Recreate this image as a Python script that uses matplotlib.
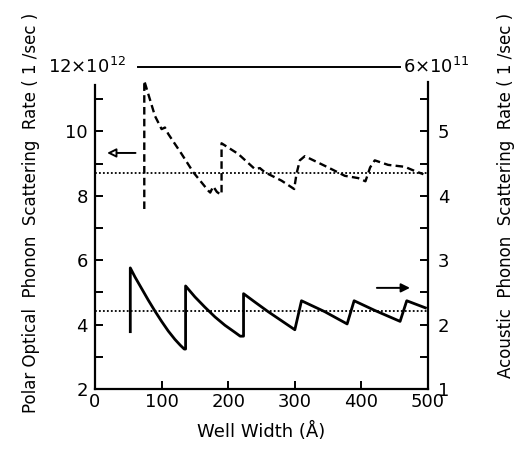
import numpy as np
import matplotlib
matplotlib.use('Agg')
import matplotlib.pyplot as plt

plt.rcParams['font.family'] = 'DejaVu Sans'

# polar optical phonon rate (left axis, 1e12 /sec) - dashed
polar_x = [74, 74, 80, 90, 100, 105, 110, 130, 147.6, 170, 173, 177.5, 183, 187.7,
           190, 190, 215, 240, 247.5, 255, 280, 299, 302.5, 307.5, 315, 350, 375, 395, 406,
           413, 420, 440, 465, 480, 493]
polar_y = [7.59, 11.57, 11.16, 10.48, 10.07, 10.12, 9.92, 9.3, 8.73, 8.16, 8.1, 8.29, 8.12, 8.05,
           8.05, 9.63, 9.3, 8.83, 8.86, 8.73, 8.47, 8.21, 8.68, 9.1, 9.23, 8.88, 8.62, 8.55, 8.45,
           8.88, 9.1, 8.96, 8.9, 8.77, 8.67]

# acoustic phonon rate (right axis, 1e11 /sec) - solid
acou_x = [53, 53, 60, 70, 80, 90, 100, 110, 120, 128, 134,
          136, 136, 150, 165, 180, 195, 210, 218,
          223, 223, 240, 260, 280, 300,
          310, 345, 378.5, 389, 420, 458, 468, 496]
acou_y = [1.89, 2.88, 2.74, 2.56, 2.38, 2.21, 2.05, 1.9, 1.77, 1.68, 1.62,
          1.62, 2.6, 2.43, 2.27, 2.12, 1.99, 1.88, 1.82,
          1.82, 2.48, 2.35, 2.2, 2.06, 1.92,
          2.37, 2.2, 2.01, 2.37, 2.22, 2.05, 2.37, 2.26]

polar_ref = 8.7
acou_ref = 2.21

fig = plt.figure(figsize=(5.14, 4.51), dpi=100)
ax = fig.add_axes([0.1848, 0.1375, 0.648, 0.714])
ax2 = ax.twinx()

ax.plot(polar_x, polar_y, color='black', lw=1.7, ls=(0, (3.2, 1.8)))
ax.axhline(polar_ref, color='black', lw=1.3, ls=(0, (1, 1.2)))
ax2.plot(acou_x, acou_y, color='black', lw=2.0)
ax2.axhline(acou_ref, color='black', lw=1.3, ls=(0, (1, 1.2)))

ax.set_xlim(0, 500)
ax.set_ylim(2, 12)
ax2.set_ylim(1, 6)

ax.set_xticks([0, 100, 200, 300, 400, 500])
ax.set_yticks([2, 4, 6, 8, 10])
ax.set_yticks([3, 5, 7, 9, 11], minor=True)
ax2.set_yticks([1, 2, 3, 4, 5])
ax2.set_yticks([1.5, 2.5, 3.5, 4.5, 5.5], minor=True)

for a in (ax, ax2):
    a.tick_params(which='both', direction='in', length=6, width=1.4, labelsize=13)
ax.tick_params(axis='x', pad=3)
ax.tick_params(axis='y', which='both', right=False, pad=5)
ax2.tick_params(axis='y', which='both', left=False, pad=7)

ax.spines['top'].set_visible(False)
ax.spines['right'].set_visible(False)
ax.spines['left'].set_bounds(2, 11.45)
ax.spines['left'].set_linewidth(1.6)
ax.spines['bottom'].set_linewidth(1.6)
for s in ('top', 'left', 'bottom'):
    ax2.spines[s].set_visible(False)
ax2.spines['right'].set_bounds(1, 5.77)
ax2.spines['right'].set_linewidth(1.6)

# top line with scale labels
ax.plot([65, 458], [12, 12], color='black', lw=1.4, clip_on=False)
ax.text(47, 12, r'12$\times$10$^{12}$', ha='right', va='center', fontsize=13)
ax.text(463, 12, r'6$\times$10$^{11}$', ha='left', va='center', fontsize=13, clip_on=False)

# arrows pointing to the axes
ax.annotate('', xy=(14, 9.33), xytext=(65, 9.33),
            arrowprops=dict(arrowstyle='-|>', edgecolor='black', facecolor='white',
                            lw=1.4, mutation_scale=13))
ax2.annotate('', xy=(477, 2.57), xytext=(419, 2.57),
             arrowprops=dict(arrowstyle='-|>', color='black', lw=1.4, mutation_scale=13))

ax.set_xlabel('Well Width (Å)', fontsize=13, labelpad=8)
fig.text(0.06, 0.971, 'Polar Optical  Phonon  Scattering  Rate ( 1 /sec )',
         rotation=90, ha='center', va='top', fontsize=12)
fig.text(0.984, 0.971, 'Acoustic  Phonon  Scattering  Rate ( 1 /sec )',
         rotation=90, ha='center', va='top', fontsize=12)

fig.savefig('out.png', dpi=100)
